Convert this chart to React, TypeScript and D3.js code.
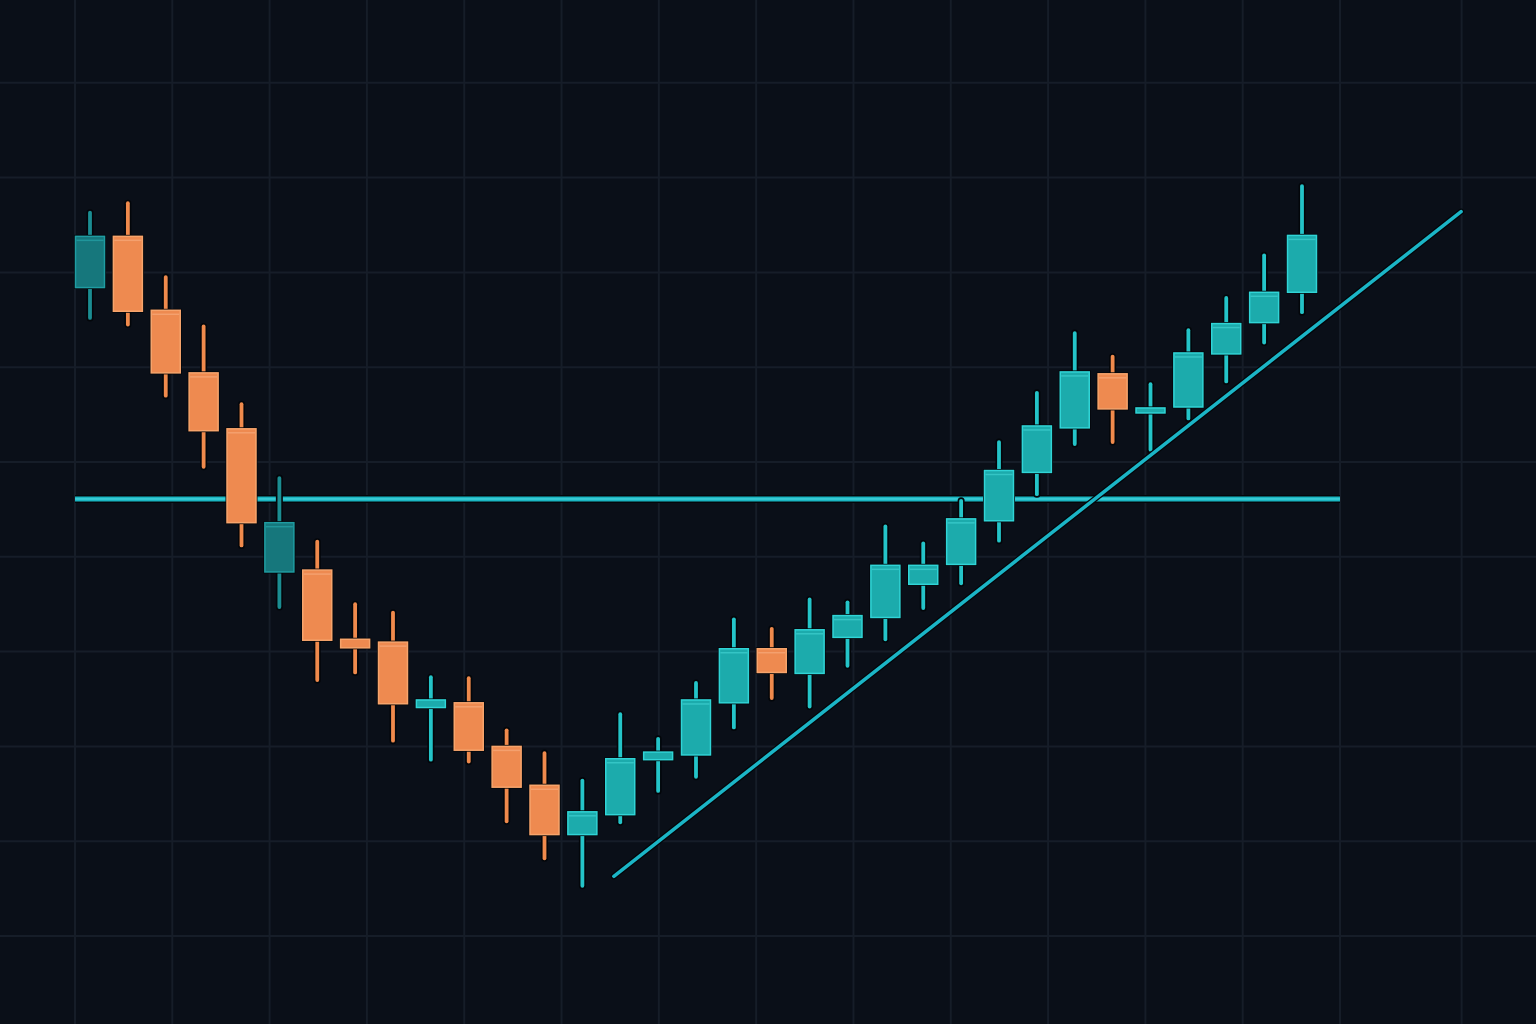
import React from "react";
import * as d3 from "d3";

// OHLC (price units, grid step = 10)
const opens: number[] = [
  168.4, 173.8, 166.0, 159.4, 153.5, 138.4, 138.6, 131.3, 131.0, 124.1, 124.6,
  120.0, 115.9, 110.7, 112.8, 118.6, 119.1, 124.6, 130.3, 127.7, 131.5, 133.6,
  137.1, 139.2, 143.8, 148.9, 153.6, 159.3, 155.3, 155.8, 161.4, 164.7, 167.9,
];
const closes: number[] = [
  173.8, 165.9, 159.4, 153.3, 143.6, 143.6, 131.2, 130.4, 124.5, 124.9, 119.6,
  115.7, 110.7, 113.1, 118.7, 119.4, 124.9, 130.3, 127.8, 132.3, 133.8, 139.1,
  139.1, 144.0, 149.1, 153.8, 159.5, 155.6, 155.7, 161.5, 164.6, 167.9, 173.9,
];
const highs: number[] = [
  176.3, 177.3, 169.5, 164.3, 156.1, 148.3, 141.6, 135.0, 134.1, 127.3, 127.2,
  121.7, 119.3, 116.4, 123.4, 120.8, 126.7, 133.4, 132.4, 135.5, 135.2, 143.2,
  141.4, 145.9, 152.1, 157.3, 163.6, 161.1, 158.2, 163.9, 167.3, 171.8, 179.1,
];
const lows: number[] = [
  165.2, 164.5, 157.0, 149.5, 141.2, 134.7, 127.0, 127.8, 120.6, 118.6, 118.4,
  112.1, 108.2, 105.3, 112.0, 115.3, 116.8, 122.0, 125.1, 124.2, 128.5, 131.3,
  134.6, 137.2, 141.7, 146.6, 151.9, 152.1, 151.3, 154.6, 158.5, 162.6, 165.8,
];
// candles drawn in the darker teal tone
const mutedCandles: number[] = [0, 5];

const supportLevel = 146.1;
const trendFrom = { index: 13.83, price: 106.3 };
const trendTo = { index: 36.2, price: 176.4 };

const W = 1536;
const H = 1024;

const BG = "#0a0f18";
const GRID = "#161d28";
const UP = { fill: "#1cabac", stroke: "#30d4d6", wick: "#24c4c8", hi: "#48dada" };
const UP_MUTED = { fill: "#16777c", stroke: "#1f9ca2", wick: "#1b8d92", hi: "#2ab0b4" };
const DOWN = { fill: "#ee8a50", stroke: "#f6a46c", wick: "#f08a4c", hi: "#f9b287" };

const App: React.FC = () => {
  const x = d3.scaleLinear().domain([0, opens.length - 1]).range([90, 1302]);
  const y = d3.scaleLinear().domain([90.72, 198.73]).range([H, 0]);
  const gridX = d3.scaleLinear().domain([0, 13]).range([75, 1340]);

  const gridCols = [...d3.range(0, 14), 14.25];
  const gridRows = y.ticks(10);
  const bodyW = 29;

  const candles = opens.map((o, i) => ({
    i,
    o,
    c: closes[i],
    h: highs[i],
    l: lows[i],
  }));

  return (
    <svg
      width={W}
      height={H}
      style={{ position: "fixed", left: 0, top: 0, display: "block" }}
    >
      <rect width={W} height={H} fill={BG} />

      <g stroke={GRID} strokeWidth={2}>
        {gridCols.map((g) => (
          <line key={`c${g}`} x1={gridX(g)} x2={gridX(g)} y1={0} y2={H} />
        ))}
        {gridRows.map((t) => (
          <line key={`r${t}`} x1={0} x2={W} y1={y(t)} y2={y(t)} />
        ))}
      </g>

      {/* support level */}
      <g>
        <line
          x1={gridX(0)}
          x2={gridX(13)}
          y1={y(supportLevel)}
          y2={y(supportLevel)}
          stroke="#03060a"
          strokeWidth={8}
        />
        <line
          x1={gridX(0)}
          x2={gridX(13)}
          y1={y(supportLevel)}
          y2={y(supportLevel)}
          stroke="#1ab6c2"
          strokeWidth={5}
        />
        <line
          x1={gridX(0)}
          x2={gridX(13)}
          y1={y(supportLevel)}
          y2={y(supportLevel)}
          stroke="#55dbe2"
          strokeWidth={1}
        />
      </g>

      {candles.map((d) => {
        const up = d.c >= d.o;
        const pal = up ? (mutedCandles.includes(d.i) ? UP_MUTED : UP) : DOWN;
        const cx = x(d.i);
        const top = y(Math.max(d.o, d.c));
        const bot = y(Math.min(d.o, d.c));
        const bh = Math.max(bot - top, 5);
        return (
          <g key={d.i}>
            <line
              x1={cx}
              x2={cx}
              y1={y(d.h)}
              y2={y(d.l)}
              stroke="#03060a"
              strokeWidth={7}
              strokeLinecap="round"
            />
            <line
              x1={cx}
              x2={cx}
              y1={y(d.h)}
              y2={y(d.l)}
              stroke={pal.wick}
              strokeWidth={3.8}
              strokeLinecap="round"
            />
            <rect
              x={cx - bodyW / 2 - 1.5}
              y={top - 1.5}
              width={bodyW + 3}
              height={bh + 3}
              fill="#03060a"
            />
            <rect
              x={cx - bodyW / 2}
              y={top}
              width={bodyW}
              height={bh}
              fill={pal.fill}
              stroke={pal.stroke}
              strokeWidth={1.5}
            />
            {bh > 12 && (
              <line
                x1={cx - bodyW / 2 + 1}
                x2={cx + bodyW / 2 - 1}
                y1={top + 4}
                y2={top + 4}
                stroke={pal.hi}
                strokeOpacity={0.55}
                strokeWidth={1.5}
              />
            )}
          </g>
        );
      })}

      {/* rising trend line */}
      <line
        x1={x(trendFrom.index)}
        y1={y(trendFrom.price)}
        x2={x(trendTo.index)}
        y2={y(trendTo.price)}
        stroke="#03060a"
        strokeWidth={6}
        strokeLinecap="round"
      />
      <line
        x1={x(trendFrom.index)}
        y1={y(trendFrom.price)}
        x2={x(trendTo.index)}
        y2={y(trendTo.price)}
        stroke="#1bb5c6"
        strokeWidth={3.5}
        strokeLinecap="round"
      />
    </svg>
  );
};

export default App;
